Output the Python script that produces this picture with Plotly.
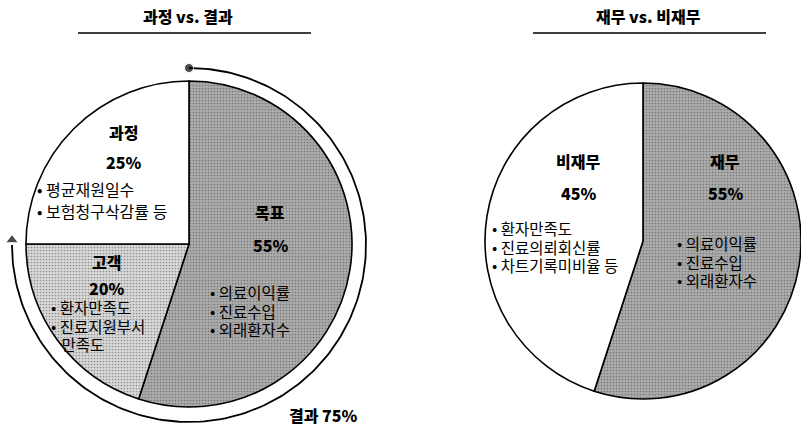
import numpy as np
import plotly.graph_objects as go

W, H = 801, 427

# ---- data ----
left_title = "과정 vs. 결과"
left_labels = ["목표", "고객", "과정"]
left_values = [55, 20, 25]
left_bullets = {
    "목표": ["• 의료이익률", "• 진료수입", "• 외래환자수"],
    "고객": ["• 환자만족도", "• 진료지원부서", "\u00a0\u00a0\u00a0만족도"],
    "과정": ["• 평균재원일수", "• 보험청구삭감률 등"],
}
result_label = "결과"
result_share = left_values[0] + left_values[1]  # 75

right_title = "재무 vs. 비재무"
right_labels = ["재무", "비재무"]
right_values = [55, 45]
right_bullets = {
    "재무": ["• 의료이익률", "• 진료수입", "• 외래환자수"],
    "비재무": ["• 환자만족도", "• 진료의뢰회신률", "• 차트기록미비율 등"],
}

FONT = "Noto Sans CJK KR"
DARK = "#ababab"
LIGHT = "#d8d8d8"


def pdom(cx, cy, r):
    x0, x1 = (cx - r) / W, (cx + r) / W
    y0, y1 = (H - cy - r) / H, (H - cy + r) / H
    return dict(x=[max(0, x0), min(1, x1)], y=[y0, y1])


fig = go.Figure()

fig.add_trace(go.Pie(
    labels=left_labels, values=left_values, sort=False, direction="clockwise",
    rotation=0, textinfo="none", hoverinfo="label+percent", showlegend=False,
    domain=pdom(189, 244, 163),
    marker=dict(colors=[DARK, LIGHT, "white"], line=dict(color="black", width=1.6),
                pattern=dict(shape=[".", ".", ""], fgcolor="#444", bgcolor=[DARK, LIGHT, "white"],
                             size=3, solidity=0.25, fillmode="overlay")),
))

fig.add_trace(go.Pie(
    labels=right_labels, values=right_values, sort=False, direction="clockwise",
    rotation=0, textinfo="none", hoverinfo="label+percent", showlegend=False,
    domain=dict(x=[(647 - 162) / W, 1.0], y=[(H - 241 - 158) / H, (H - 241 + 158) / H]),
    marker=dict(colors=[DARK, "white"], line=dict(color="black", width=1.6),
                pattern=dict(shape=[".", ""], fgcolor="#444", bgcolor=[DARK, "white"],
                             size=3, solidity=0.25, fillmode="overlay")),
))

# result arc (75% of the circle) around the left pie
cx, cy, R = 189, 245, 177
theta = np.linspace(0, 2 * np.pi * result_share / 100, 200)
ax_x = cx + R * np.sin(theta)
ax_y = cy - R * np.cos(theta)
fig.add_trace(go.Scatter(x=ax_x, y=ax_y, mode="lines", line=dict(color="black", width=1.8),
                         hoverinfo="skip", showlegend=False))
fig.add_trace(go.Scatter(x=[ax_x[0], ax_x[-1]], y=[ax_y[0], ax_y[-1] - 5], mode="markers",
                         marker=dict(symbol=["circle", "triangle-up"], size=[9, 11], color="black"),
                         hoverinfo="skip", showlegend=False))

ann = []


def txt(x, y, s, size=16, bold=False, anchor="center"):
    ann.append(dict(x=x, y=y, xref="x", yref="y", text=s, align="left",
                    showarrow=False, xanchor=anchor, yanchor="middle",
                    font=dict(family=FONT, size=size, color="black",
                              weight=900 if bold else 400)))


def bullets(x, y_first, lines, step=18.5, size=15.5):
    for i, s in enumerate(lines):
        txt(x, y_first + i * step, s, size, anchor="left")


# titles
txt(188, 16, left_title, 16, True)
txt(648, 16, right_title, 16, True)

# left pie labels
txt(123, 132, left_labels[2], 16, True)
txt(123, 162, f"{left_values[2]}%", 16, True)
bullets(35, 189, left_bullets["과정"], step=22, size=16)

txt(270, 212, left_labels[0], 16, True)
txt(270, 245, f"{left_values[0]}%", 16, True)
bullets(208, 292, left_bullets["목표"])

txt(106, 262, left_labels[1], 16, True)
txt(106, 288, f"{left_values[1]}%", 16, True)
bullets(49, 307, left_bullets["고객"])

txt(323, 415, f"{result_label} {result_share}%", 16, True)

# right pie labels
txt(578, 161, right_labels[1], 16, True)
txt(578, 193, f"{right_values[1]}%", 16, True)
bullets(490, 228, right_bullets["비재무"])

txt(725, 161, right_labels[0], 16, True)
txt(725, 193, f"{right_values[0]}%", 16, True)
bullets(675, 243, right_bullets["재무"])

shapes = [
    dict(type="line", xref="x", yref="y", x0=78, x1=311, y0=33, y1=33, line=dict(color="black", width=1.5)),
    dict(type="line", xref="x", yref="y", x0=533, x1=766, y0=33, y1=33, line=dict(color="black", width=1.5)),
]

fig.update_layout(
    width=W, height=H, margin=dict(l=0, r=0, t=0, b=0),
    paper_bgcolor="white", plot_bgcolor="rgba(0,0,0,0)",
    xaxis=dict(range=[0, W], visible=False, fixedrange=True),
    yaxis=dict(range=[H, 0], visible=False, fixedrange=True),
    annotations=ann, shapes=shapes, showlegend=False,
)

fig.write_html("out.html", config={"displayModeBar": False},
               post_script="document.body.style.margin='0';document.body.style.overflow='hidden';")
